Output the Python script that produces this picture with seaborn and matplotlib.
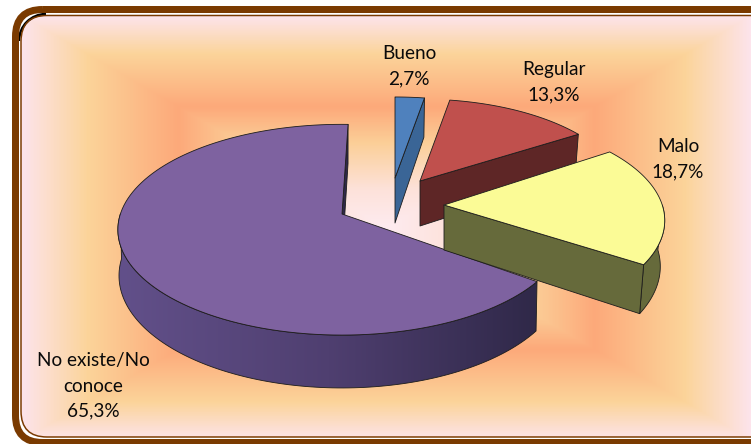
import numpy as np
import matplotlib
matplotlib.use("Agg")
import matplotlib.pyplot as plt
from matplotlib.colors import LinearSegmentedColormap
from matplotlib.patches import FancyBboxPatch, Polygon, Arc
import seaborn as sns

categories = ["Bueno", "Regular", "Malo", "No existe/No\nconoce"]
values = [2.7, 13.3, 18.7, 65.3]
value_labels = ["2,7%", "13,3%", "18,7%", "65,3%"]

top_colors = sns.color_palette(["#4F81BD", "#C0504D", "#FBFB96", "#7E62A0"])
wall_colors = sns.color_palette(["#3A6596", "#5E2626", "#666A3B", "#4F3F70"])
purple_wall = sns.blend_palette(["#62508A", "#4F3F70", "#2F2848"], 64, as_cmap=True)

# slice geometry (pixel layout)
apex = [(395, 178), (420, 181), (444, 205), (342, 214)]
scale = [0.89, 0.90, 0.97, 0.985]
rotation = [0.0, 0.0, -0.006, 0.005]
shrink = [0.98, 0.98, 0.98, 0.995]
label_pos = [(409, 66), (554, 82), (678, 159), (93, 386)]
RX, RY, K, DEPTH = 225, 104.6, 0.149, 45

sns.set_theme(style="white")
plt.rcParams["font.family"] = ["Lato", "DejaVu Sans"]
fig = plt.figure(figsize=(7.51, 4.44), dpi=100)
ax = fig.add_axes([0, 0, 1, 1])
ax.set_axis_off()

# rectangular path gradient background
X, Y = np.meshgrid(np.arange(0, 770), np.arange(0, 450))
t = np.maximum(np.abs(X - 386) / 365, np.abs(Y - 228) / 212)
cmap = LinearSegmentedColormap.from_list("bg", [
    (0.00, "#FDEBF0"), (0.18, "#FDE2DA"), (0.40, "#FBCF98"), (0.57, "#FDA97A"),
    (0.82, "#FBD49A"), (1.00, "#FDE4EC")])
im = ax.imshow(np.clip(t, 0, 1), cmap=cmap, vmin=0, vmax=1, extent=(0, 770, 450, 0),
               interpolation="bilinear", zorder=0, aspect="auto")
clip = FancyBboxPatch((21, 15.5), 760, 421.5, boxstyle="round,pad=0,rounding_size=26",
                      fc="none", ec="none", transform=ax.transData)
ax.add_patch(clip)
im.set_clip_path(clip)


def project(i, frac, bottom=False):
    """Rim point of slice i at a cumulative share of the pie (clockwise from top)."""
    a = 2 * np.pi * (frac + rotation[i])
    u, v = np.sin(a), np.cos(a)
    w = 1 + K * v
    x = RX * scale[i] * u / w
    y = -RY * scale[i] * v / w
    cx, cy = apex[i]
    if bottom:
        return cx + x * shrink[i], cy + y + DEPTH / w
    return cx + x, cy + y


edges = np.cumsum([0] + values) / 100
order = [0, 1, 3, 2]
edge_kw = dict(ec="#1c1c1c", lw=0.6, joinstyle="round")
for zi, i in enumerate(order):
    c = apex[i]
    f0, f1 = edges[i], edges[i + 1]
    z = 2 + zi
    # radial face on the closing side of the slice
    poly = [c, project(i, f1), project(i, f1, True), (c[0], c[1] + DEPTH)]
    face = "#2F2848" if i == 3 else wall_colors[i]
    ax.add_patch(Polygon(poly, fc=face, zorder=z + (0.1 if i == 2 else 0), **edge_kw))
    # curved outer wall (only the part facing the viewer)
    a0, a1 = max(f0 + rotation[i], 0.25) - rotation[i], min(f1 + rotation[i], 0.75) - rotation[i]
    if a1 > a0:
        fr = np.linspace(a0, a1, 120)
        outline = [project(i, q) for q in fr] + [project(i, q, True) for q in fr[::-1]]
        if i == 3:
            xs = np.linspace(0, 1, 256)[None, :]
            wall_im = ax.imshow(xs, cmap=purple_wall, extent=(118, 540, 400, 230),
                                aspect="auto", zorder=z, interpolation="bilinear")
            wp = Polygon(outline, fc="none", zorder=z, **edge_kw)
            ax.add_patch(wp)
            wall_im.set_clip_path(wp)
        else:
            ax.add_patch(Polygon(outline, fc=wall_colors[i], zorder=z, **edge_kw))
    # top surface
    fr = np.linspace(f0, f1, 120)
    top = [c] + [project(i, q) for q in fr]
    ax.add_patch(Polygon(top, fc=top_colors[i], zorder=z + 0.2, **edge_kw))

for name, val, (x, y) in zip(categories, value_labels, label_pos):
    ax.text(x, y, f"{name}\n{val}", ha="center", va="center", fontsize=13.7,
            color="#0a0a0a", linespacing=1.58, zorder=10)

# double brown frame
brown = "#7A3A00"
ax.add_patch(FancyBboxPatch((15.5, 9.5), 780, 433, boxstyle="round,pad=0,rounding_size=27",
                            fc="none", ec=brown, lw=7 * 0.72, zorder=8))
ax.add_patch(FancyBboxPatch((21, 15.5), 760, 421.5, boxstyle="round,pad=0,rounding_size=26",
                            fc="none", ec=brown, lw=1.5 * 0.72, zorder=8))
ax.add_patch(Arc((46, 41), 54, 54, theta1=180, theta2=270, color="black", lw=1.8, zorder=7.5))

ax.set_xlim(0, 751)
ax.set_ylim(444, 0)
fig.savefig("out.png", dpi=100, facecolor="white")
